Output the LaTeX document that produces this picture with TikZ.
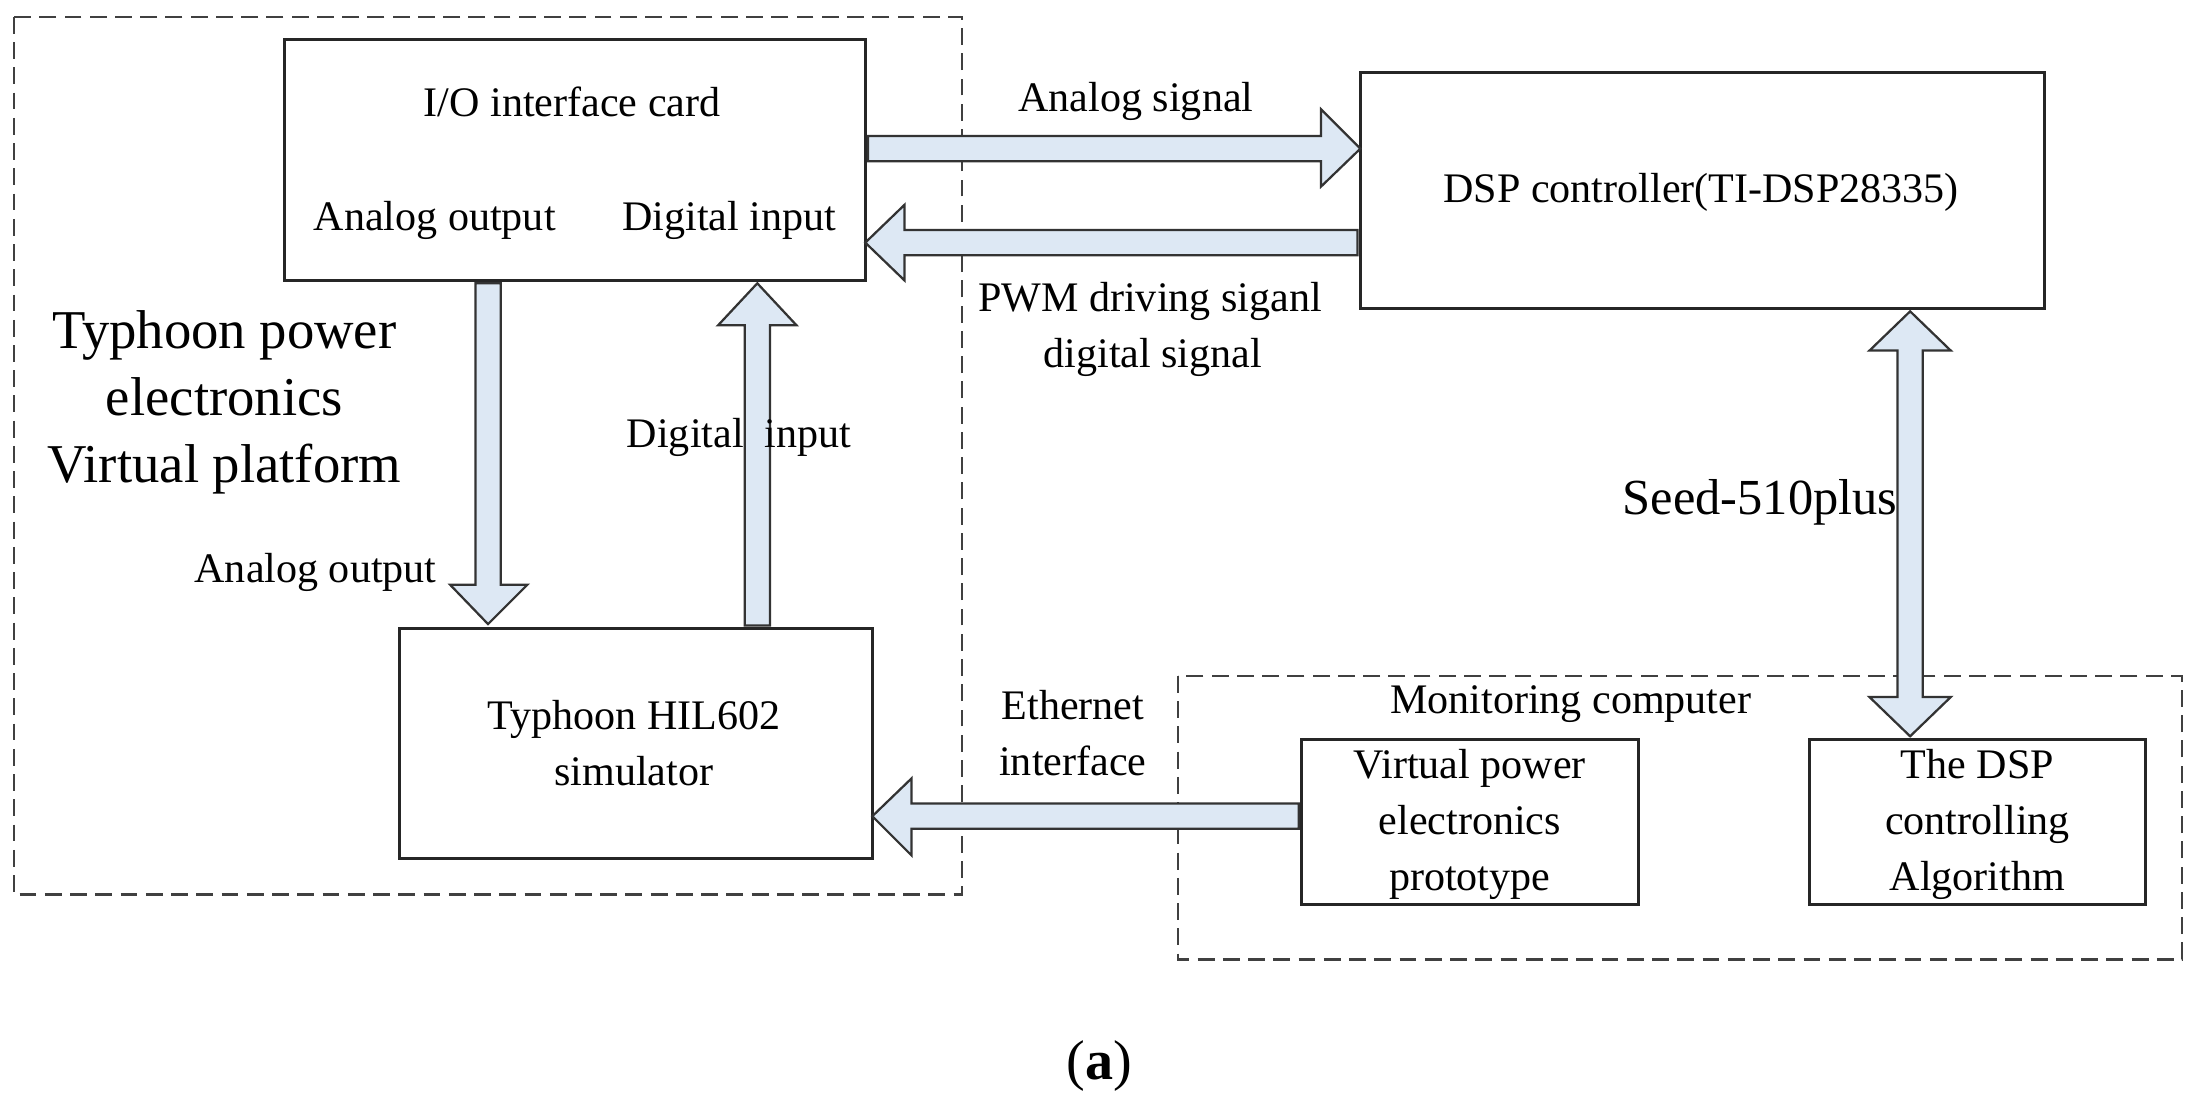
\documentclass[tikz,border=0pt]{standalone}
\usepackage{fontspec}
\setmainfont{Liberation Serif}
\begin{document}
\begin{tikzpicture}[x=1pt,y=-1pt,
  box/.style={draw=black!85,line width=2.2pt},
  dbox/.style={draw=black!75,line width=1.8pt,dash pattern=on 12pt off 6pt},
  blk/.style={draw=black!80,line width=1.6pt,fill={rgb,255:red,221;green,232;blue,244},line join=miter},
  t/.style={font=\fontsize{30}{40}\selectfont,inner sep=0pt},
  big/.style={font=\fontsize{39}{48}\selectfont,inner sep=0pt}]
\useasboundingbox (0,0) rectangle (1568,790);
\draw[dbox] (10,12) rectangle (686,638);
\draw[dbox] (840,482) rectangle (1556,684);
\draw[box] (203,28) rectangle (617,200);
\draw[box] (970,52) rectangle (1458,220);
\draw[box] (285,448) rectangle (622,612);
\draw[box] (928,527) rectangle (1168,645);
\draw[box] (1290,527) rectangle (1530,645);
% arrows
\draw[blk] (619,97) -- (942,97) -- (942,78) -- (970,106) -- (942,133) -- (942,115) -- (619,115) -- cycle;
\draw[blk] (968,164) -- (645,164) -- (645,146) -- (617,173) -- (645,200) -- (645,182) -- (968,182) -- cycle;
\draw[blk] (339,202) -- (339,417) -- (321,417) -- (348,445) -- (376,417) -- (357,417) -- (357,202) -- cycle;
\draw[blk] (531,446) -- (531,232) -- (512,232) -- (540,202) -- (568,232) -- (549,232) -- (549,446) -- cycle;
\draw[blk] (1353,250) -- (1333,250) -- (1362,222) -- (1391,250) -- (1371,250) -- (1371,497) -- (1391,497) -- (1362,525) -- (1333,497) -- (1353,497) -- cycle;
\draw[blk] (926,573) -- (650,573) -- (650,555) -- (622,582) -- (650,610) -- (650,591) -- (926,591) -- cycle;
% texts
\node[t] (io) at (408,73) {I/O interface card};
\node[t] (ao) at (310,157) {Analog output};
\node[t] (di) at (520,157) {Digital input};
\node[t] (dsp) at (1213,137) {DSP controller(TI-DSP28335)};
\node[big,align=center] (ty) at (160,287) {Typhoon power\\electronics\\Virtual platform};
\node[t,align=center] (hil) at (452,530) {Typhoon HIL602\\simulator};
\node[t] (mon) at (1120,502) {Monitoring computer};
\node[t,align=center] (vp) at (1048,588) {Virtual power\\electronics\\prototype};
\node[t,align=center] (alg) at (1410,588) {The DSP\\controlling\\Algorithm};
\node[t] (as) at (810,72) {Analog signal};
\node[t] (pwm) at (820,215) {PWM driving siganl};
\node[t] (ds) at (822,255) {digital signal};
\node[t] (ao2) at (225,408) {Analog output};
\node[t] (di2) at (527,312) {Digital\ \ input};
\node[inner sep=0pt,font=\fontsize{36}{40}\selectfont] (seed) at (1255,358) {Seed-510plus};
\node[t,align=center] (eth) at (765,523) {Ethernet\\interface};
\node[inner sep=0pt,font=\fontsize{40}{44}\selectfont] (a) at (784,760) {(\textbf{a})};
\end{tikzpicture}
\end{document}
